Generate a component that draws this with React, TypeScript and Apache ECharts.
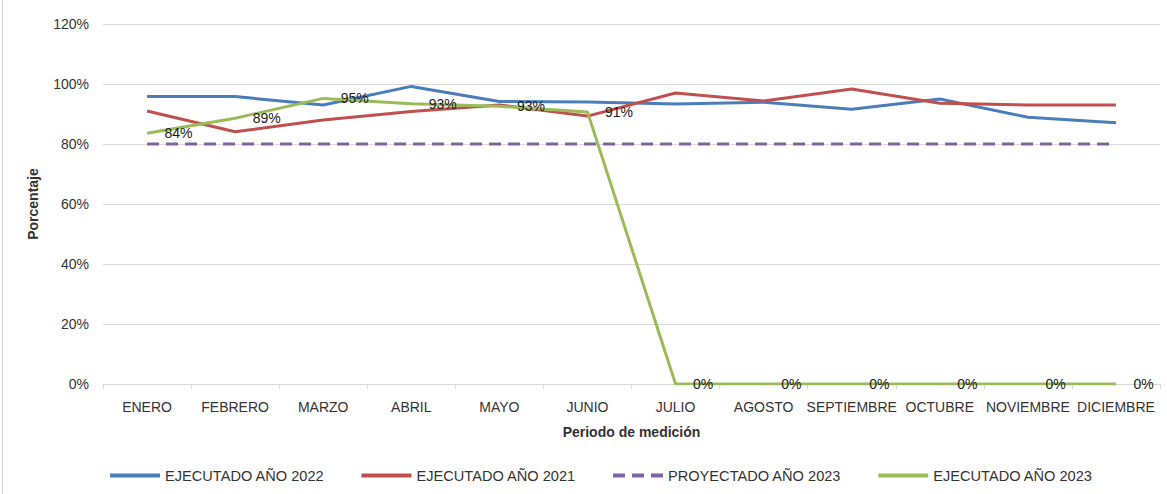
import React, { useEffect, useRef } from "react";
import * as echarts from "echarts";

const categories = ["ENERO", "FEBRERO", "MARZO", "ABRIL", "MAYO", "JUNIO", "JULIO", "AGOSTO", "SEPTIEMBRE", "OCTUBRE", "NOVIEMBRE", "DICIEMBRE"];
const ejecutado2022 = [95.8, 95.8, 93.0, 99.2, 94.2, 94.0, 93.3, 93.9, 91.6, 95.0, 88.9, 87.1];
const ejecutado2021 = [91.0, 84.1, 88.0, 90.8, 93.0, 89.3, 97.0, 94.3, 98.3, 93.6, 93.0, 93.0];
const proyectado2023 = [80, 80, 80, 80, 80, 80, 80, 80, 80, 80, 80, 80];
const ejecutado2023 = [83.6, 88.6, 95.2, 93.4, 92.6, 90.7, 0, 0, 0, 0, 0, 0];
const yTicks = [0, 20, 40, 60, 80, 100, 120];

const FONT = "Liberation Sans";
const HIDDEN = "rgba(0,0,0,0)";

export default function App() {
  const ref = useRef<HTMLDivElement>(null);
  useEffect(() => {
    document.body.style.margin = "0";
    const chart = echarts.init(ref.current!, null, { renderer: "svg" });
    chart.setOption({
      animation: false,
      backgroundColor: "#ffffff",
      textStyle: { fontFamily: FONT },
      graphic: [
        { type: "line", shape: { x1: 2.5, y1: 0, x2: 2.5, y2: 494 }, style: { stroke: "#d9d9d9", lineWidth: 1 } },
      ],
      legend: {
        bottom: 6,
        left: 103,
        itemWidth: 50,
        itemHeight: 14,
        itemGap: 35,
        lineStyle: { width: 4 },
        textStyle: { fontFamily: FONT, fontSize: 14.6, color: "#333" },
        data: ["EJECUTADO AÑO 2022", "EJECUTADO AÑO 2021", "PROYECTADO AÑO 2023", "EJECUTADO AÑO 2023"],
      },
      grid: { left: 103, right: 7, top: 24, bottom: 110, containLabel: false },
      xAxis: {
        type: "category",
        data: categories,
        boundaryGap: true,
        name: "Periodo de medición",
        nameLocation: "middle",
        nameGap: 41,
        nameTextStyle: { fontFamily: FONT, fontSize: 14, fontWeight: "bold", color: "#333" },
        axisLine: { lineStyle: { color: "#d9d9d9", width: 1 } },
        axisTick: { show: true, length: 5, lineStyle: { color: "#d9d9d9" } },
        axisLabel: { fontFamily: FONT, fontSize: 14, color: "#333", margin: 16, interval: 0 },
      },
      yAxis: {
        type: "value",
        min: 0,
        max: 120,
        interval: 20,
        name: "Porcentaje",
        nameLocation: "middle",
        nameGap: 63,
        nameRotate: 90,
        nameTextStyle: { fontFamily: FONT, fontSize: 14, fontWeight: "bold", color: "#333" },
        axisLine: { show: false },
        axisTick: { show: false },
        splitLine: { lineStyle: { color: "#d9d9d9", width: 1 } },
        axisLabel: {
          fontFamily: FONT,
          fontSize: 14,
          color: "#333",
          margin: 14,
          formatter: (v: number) => (yTicks.includes(v) ? v + "%" : ""),
        },
      },
      series: [
        {
          name: "EJECUTADO AÑO 2022",
          type: "line",
          data: ejecutado2022,
          symbol: "none",
          lineStyle: { color: "#4a7ebb", width: 3 },
          itemStyle: { color: HIDDEN },
        },
        {
          name: "EJECUTADO AÑO 2021",
          type: "line",
          data: ejecutado2021,
          symbol: "none",
          lineStyle: { color: "#c0504d", width: 3 },
          itemStyle: { color: HIDDEN },
        },
        {
          name: "PROYECTADO AÑO 2023",
          type: "line",
          data: proyectado2023,
          symbol: "none",
          lineStyle: { color: "#8064a2", width: 3, type: [12, 7] },
          itemStyle: { color: HIDDEN },
        },
        {
          name: "EJECUTADO AÑO 2023",
          type: "line",
          data: ejecutado2023,
          symbol: "circle",
          symbolSize: 1,
          showSymbol: true,
          lineStyle: { color: "#9bbb59", width: 3 },
          itemStyle: { color: HIDDEN, borderWidth: 0 },
          label: {
            show: true,
            position: "right",
            distance: 17,
            fontFamily: FONT,
            fontSize: 14,
            color: "#1a1a1a",
            formatter: (p: any) => Math.round(p.value) + "%",
          },
        },
      ],
    });
    return () => chart.dispose();
  }, []);
  return <div ref={ref} style={{ width: 1167, height: 494, position: "absolute", left: 0, top: 0 }} />;
}
